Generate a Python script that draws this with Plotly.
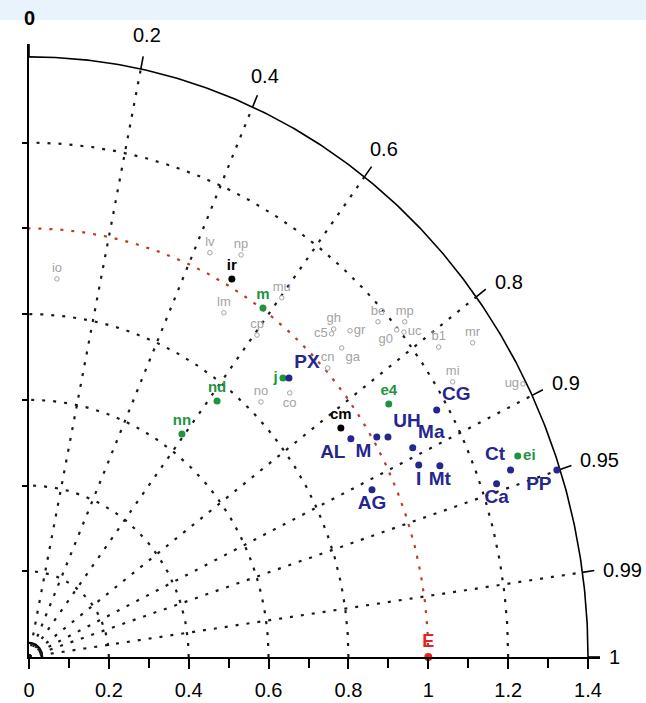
import numpy as np
import plotly.graph_objects as go

# ---------------- data (normalised std-dev space: x = s*R, y = s*sqrt(1-R^2)) -------------
ref_name = ["E"]
ref_x = [1.0]
ref_y = [0.0]

blue_names = ["PP", "Ct", "Ca", "CG", "Mt", "I", "Ma", "UH", "M", "AL", "AG", "PX"]
blue_x = [1.322, 1.206, 1.171, 1.021, 1.029, 0.976, 0.961, 0.899, 0.871, 0.806, 0.859, 0.651]
blue_y = [0.436, 0.436, 0.404, 0.576, 0.446, 0.448, 0.488, 0.513, 0.513, 0.509, 0.390, 0.651]

green_names = ["ei", "e4", "j", "nd", "nn", "m"]
green_x = [1.224, 0.901, 0.636, 0.471, 0.383, 0.586]
green_y = [0.469, 0.590, 0.651, 0.597, 0.520, 0.814]

black_names = ["ir", "cm"]
black_x = [0.508, 0.781]
black_y = [0.882, 0.534]

gray_names = ["io", "lv", "np", "lm", "mu", "cp", "no", "co", "gh", "c5", "gr",
              "ga", "cn", "be", "mp", "g0", "uc", "b1", "mr", "mi", "ug"]
gray_x = [0.070, 0.453, 0.531, 0.488, 0.633, 0.571, 0.581, 0.653, 0.763, 0.758, 0.804,
          0.783, 0.748, 0.874, 0.941, 0.921, 0.939, 1.026, 1.111, 1.061, 1.237]
gray_y = [0.882, 0.943, 0.938, 0.803, 0.838, 0.751, 0.595, 0.616, 0.765, 0.754, 0.761,
          0.721, 0.674, 0.782, 0.782, 0.763, 0.758, 0.723, 0.733, 0.642, 0.637]

std_arcs = [0.2, 0.4, 0.6, 0.8, 1.2]
ref_arc = 1.0
outer_std = 1.4
corr_rays = [0.2, 0.4, 0.6, 0.8, 0.9, 0.95, 0.99]
corr_ticks = [0, 0.2, 0.4, 0.6, 0.8, 0.9, 0.95, 0.99, 1]
corr_ticktext = ["<b>0</b>", "0.2", "0.4", "0.6", "0.8", "0.9", "0.95", "0.99", "1"]
x_tickvals = [0, 0.2, 0.4, 0.6, 0.8, 1.0, 1.2, 1.4]
x_ticktext = ["0", "0.2", "0.4", "0.6", "0.8", "1", "1.2", "1.4"]

# ---------------- styles -------------
FONT = "Liberation Sans, Arial, sans-serif"
BLUE = "#26268f"
GREEN = "#1f9440"
GRAY = "#a3a3a3"
RED = "#ee1c24"
DARKRED = "#c0392b"
DOT = "3px,8px"
RMAX = 1.43  # axis range (both axes)

blue_pos = ["bottom left", "top left", "bottom center", "top right", "bottom center",
            "bottom center", "top right", "top right", "bottom left", "bottom left",
            "bottom center", "top right"]
green_pos = ["middle right", "top center", "middle left", "top center", "top center", "top center"]
black_pos = ["top center", "top center"]
gray_pos = ["top center", "top center", "top center", "top center", "top center", "top center",
            "top center", "bottom center", "top center", "middle left", "middle right",
            "bottom right", "top center", "top center", "top center", "bottom left",
            "middle right", "top center", "top center", "top center", "middle left"]

fig = go.Figure()

theta = np.linspace(0, np.pi / 2, 300)


def arc(r, color, dash, width):
    fig.add_trace(go.Scatter(x=r * np.cos(theta), y=r * np.sin(theta), mode="lines",
                             line=dict(color=color, dash=dash, width=width),
                             hoverinfo="skip", showlegend=False))


for r in std_arcs:
    arc(r, "#1a1a1a", DOT, 2.2)
arc(ref_arc, DARKRED, DOT, 2.2)
arc(outer_std, "black", "solid", 1.6)
arc(0.033, "black", "solid", 2.4)

for c in corr_rays:
    s = np.sqrt(1 - c ** 2)
    fig.add_trace(go.Scatter(x=[0, outer_std * c], y=[0, outer_std * s], mode="lines",
                             line=dict(color="#1a1a1a", dash=DOT, width=2.2),
                             hoverinfo="skip", showlegend=False))

# correlation tick marks on the outer arc
for c in corr_ticks:
    s = np.sqrt(1 - c ** 2)
    fig.add_trace(go.Scatter(x=[outer_std * c, RMAX * c], y=[outer_std * s, RMAX * s],
                             mode="lines", line=dict(color="black", width=1.6),
                             hoverinfo="skip", showlegend=False))


def pts(xs, ys, names, pos, color, size, fsize, bold=True, hollow=False):
    txt = [f"<b>{n}</b>" if bold else n for n in names]
    marker = dict(color=color, size=size)
    if hollow:
        marker = dict(color="white", size=size, line=dict(color=color, width=1))
    fig.add_trace(go.Scatter(x=xs, y=ys, mode="markers+text", text=txt, textposition=pos,
                             marker=marker, cliponaxis=False,
                             textfont=dict(family=FONT, size=fsize, color=color),
                             hoverinfo="skip", showlegend=False))


pts(gray_x, gray_y, gray_names, gray_pos, GRAY, 4.5, 13, bold=False, hollow=True)
pts(black_x, black_y, black_names, black_pos, "black", 7, 15)
pts(green_x, green_y, green_names, green_pos, GREEN, 7, 15)
pts(blue_x, blue_y, blue_names, blue_pos, BLUE, 7, 19)
pts(ref_x, ref_y, ref_name, ["top center"], RED, 8, 18)

# correlation labels (paper coordinates so they may lie outside the axis range)
yshift_right = {0.8: 7, 0.9: 7, 0.95: 6, 0.99: 1, 1: 0}
for c, t in zip(corr_ticks, corr_ticktext):
    s = np.sqrt(1 - c ** 2)
    if c <= 0.6:
        r_lab = 1.49 if c == 0 else 1.48
        fig.add_annotation(x=r_lab * c / RMAX, y=r_lab * s / RMAX, xref="paper", yref="paper",
                           text=t, showarrow=False, xanchor="center", yanchor="middle",
                           font=dict(family=FONT, size=20, color="black"))
    else:
        fig.add_annotation(x=RMAX * c / RMAX, y=RMAX * s / RMAX, xref="paper", yref="paper",
                           text=t, showarrow=False, xanchor="left", yanchor="middle",
                           xshift=7, yshift=yshift_right[c],
                           font=dict(family=FONT, size=20, color="black"))

plot_h = 703 - 44 - 46
fig.update_layout(
    width=646, height=703,
    margin=dict(l=29, r=46, t=44, b=46, autoexpand=False),
    paper_bgcolor="white", plot_bgcolor="white",
    shapes=[dict(type="rect", xref="paper", yref="paper", x0=-0.1, x1=1.2,
                 y0=1 + (44 - 20) / plot_h, y1=1 + 50 / plot_h, fillcolor="#e8f3fb",
                 line=dict(width=0), layer="below")],
    xaxis=dict(range=[0, RMAX], showgrid=False, zeroline=False, showline=True,
               linecolor="black", linewidth=2, ticks="outside", ticklen=10, tickwidth=1.6,
               tickcolor="black", tickvals=x_tickvals, ticktext=x_ticktext,
               ticklabelstandoff=4,
               tickfont=dict(family=FONT, size=20, color="black"),
               minor=dict(tickvals=[0.1, 0.3, 0.5, 0.7, 0.9, 1.1, 1.3], ticks="outside",
                          ticklen=9, tickwidth=1.6, tickcolor="black"),
               automargin=False, fixedrange=True),
    yaxis=dict(range=[0, RMAX], showgrid=False, zeroline=False, showline=True,
               linecolor="black", linewidth=2, ticks="outside", ticklen=5, tickwidth=1.5,
               tickcolor="black", tickvals=[0.2, 0.4, 0.6, 0.8, 1.0, 1.2],
               showticklabels=False, automargin=False, fixedrange=True),
)

fig.write_html("out.html")
